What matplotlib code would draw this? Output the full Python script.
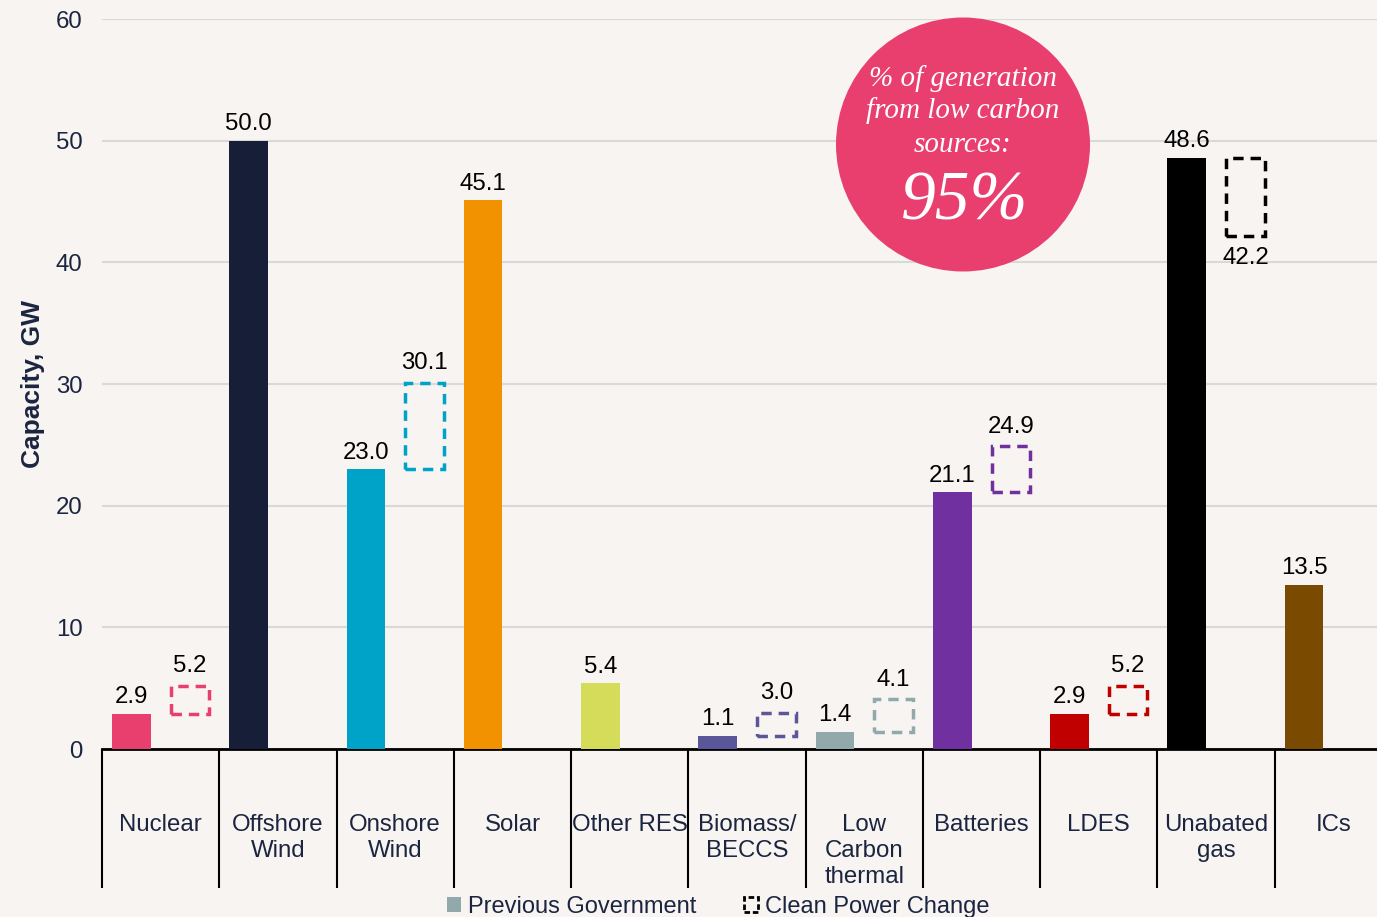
import matplotlib
matplotlib.use('Agg')
import matplotlib.pyplot as plt
from matplotlib.patches import Circle, Patch

# Capacité par technologie (GW)
categories = ['Nuclear', 'Offshore\nWind', 'Onshore\nWind', 'Solar', 'Other RES',
              'Biomass/\nBECCS', 'Low\nCarbon\nthermal', 'Batteries', 'LDES',
              'Unabated\ngas', 'ICs']
previous = [2.9, 50.0, 23.0, 45.1, 5.4, 1.1, 1.4, 21.1, 2.9, 48.6, 13.5]
clean_power = [5.2, None, 30.1, None, None, 3.0, 4.1, 24.9, 5.2, 42.2, None]
colors = ['#E83F6F', '#161F37', '#00A3C8', '#F39200', '#D4DC5A', '#5B569A',
          '#91A9AB', '#7030A0', '#C00000', '#000000', '#7A4A00']
y_ticks = [0, 10, 20, 30, 40, 50, 60]

bg = '#F7F4F1'
navy = '#1B2540'
fs = 17.3

plt.rcParams['font.family'] = ['Liberation Sans', 'DejaVu Sans']

fig = plt.figure(figsize=(13.77, 9.17), dpi=100, facecolor=bg)
ax = fig.add_axes([102 / 1377, 1 - 749 / 917, 1290 / 1377, (749 - 19) / 917])
ax.set_facecolor(bg)

x = list(range(len(categories)))
w = 0.33
off = 0.25

for i in x:
	ax.bar(i - off, previous[i], width=w, color=colors[i], zorder=3)
	ax.annotate(f'{previous[i]:.1f}', (i - off, previous[i]), xytext=(0, 4),
				textcoords='offset points', ha='center', va='bottom', fontsize=fs, color='black', zorder=4)
	new = clean_power[i]
	if new is None:
		continue
	lo, hi = min(previous[i], new), max(previous[i], new)
	ax.bar(i + off, hi - lo, bottom=lo, width=w, facecolor='none', edgecolor=colors[i],
		   linestyle=(0, (3, 2)), linewidth=2.5, zorder=3)
	if new >= previous[i]:
		ax.annotate(f'{new:.1f}', (i + off, new), xytext=(0, 6), textcoords='offset points',
					ha='center', va='bottom', fontsize=fs, color='black', zorder=4)
	else:
		ax.annotate(f'{new:.1f}', (i + off, lo), xytext=(0, -8), textcoords='offset points',
					ha='center', va='top', fontsize=fs, color='black', zorder=4)

ax.set_xlim(-0.5, len(categories) - 0.5)
ax.set_ylim(0, 60)
ax.set_yticks(y_ticks)
ax.tick_params(axis='y', length=0, pad=14, labelsize=fs, labelcolor=navy)
ax.yaxis.grid(True, color='#D9D9D9', linewidth=1.5, zorder=0)
ax.set_axisbelow(True)

ax.set_xticks(x)
ax.set_xticklabels(categories, fontsize=fs, color=navy, linespacing=1.25)
ax.tick_params(axis='x', which='major', length=0, pad=46.5)
ax.set_xticks([i - 0.5 for i in range(len(categories) + 1)], minor=True)
ax.tick_params(axis='x', which='minor', length=100, width=1.5, color='black', direction='out')

for s in ['left', 'right', 'top']:
	ax.spines[s].set_visible(False)
ax.spines['bottom'].set_linewidth(2)
ax.spines['bottom'].set_color('black')

ax.set_ylabel('Capacity, GW', fontsize=19, fontweight='bold', color=navy, labelpad=8)

# Pastille rose
fig.patches.append(Circle((9.63, 9.17 - 1.445), 1.27, transform=fig.dpi_scale_trans,
						  facecolor='#E83F6F', edgecolor='none', zorder=5))
serif = ['Liberation Serif', 'DejaVu Serif']
for txt, yy in [('% of generation', 79), ('from low carbon', 111), ('sources:', 145)]:
	fig.text(963 / 1377, 1 - yy / 917, txt, ha='center', va='center', fontsize=21,
			 style='italic', family=serif, color='white', zorder=6)
fig.text(965 / 1377, 1 - 203 / 917, '95%', ha='center', va='center', fontsize=50,
		 style='italic', family=serif, color='white', zorder=6)

# Légende en bas
handles = [Patch(facecolor='#91A9AB', edgecolor='none'),
		   Patch(facecolor='none', edgecolor='black', linestyle=(0, (2, 1)), linewidth=2)]
fig.legend(handles, ['Previous Government', 'Clean Power Change'], loc='center',
		   bbox_to_anchor=(718 / 1377, 1 - 907 / 917), ncol=2, frameon=False, fontsize=17,
		   handlelength=0.6, handleheight=0.6, handletextpad=0.3, columnspacing=2.0,
		   labelcolor=navy)

fig.savefig('out.png', dpi=100, facecolor=bg)
